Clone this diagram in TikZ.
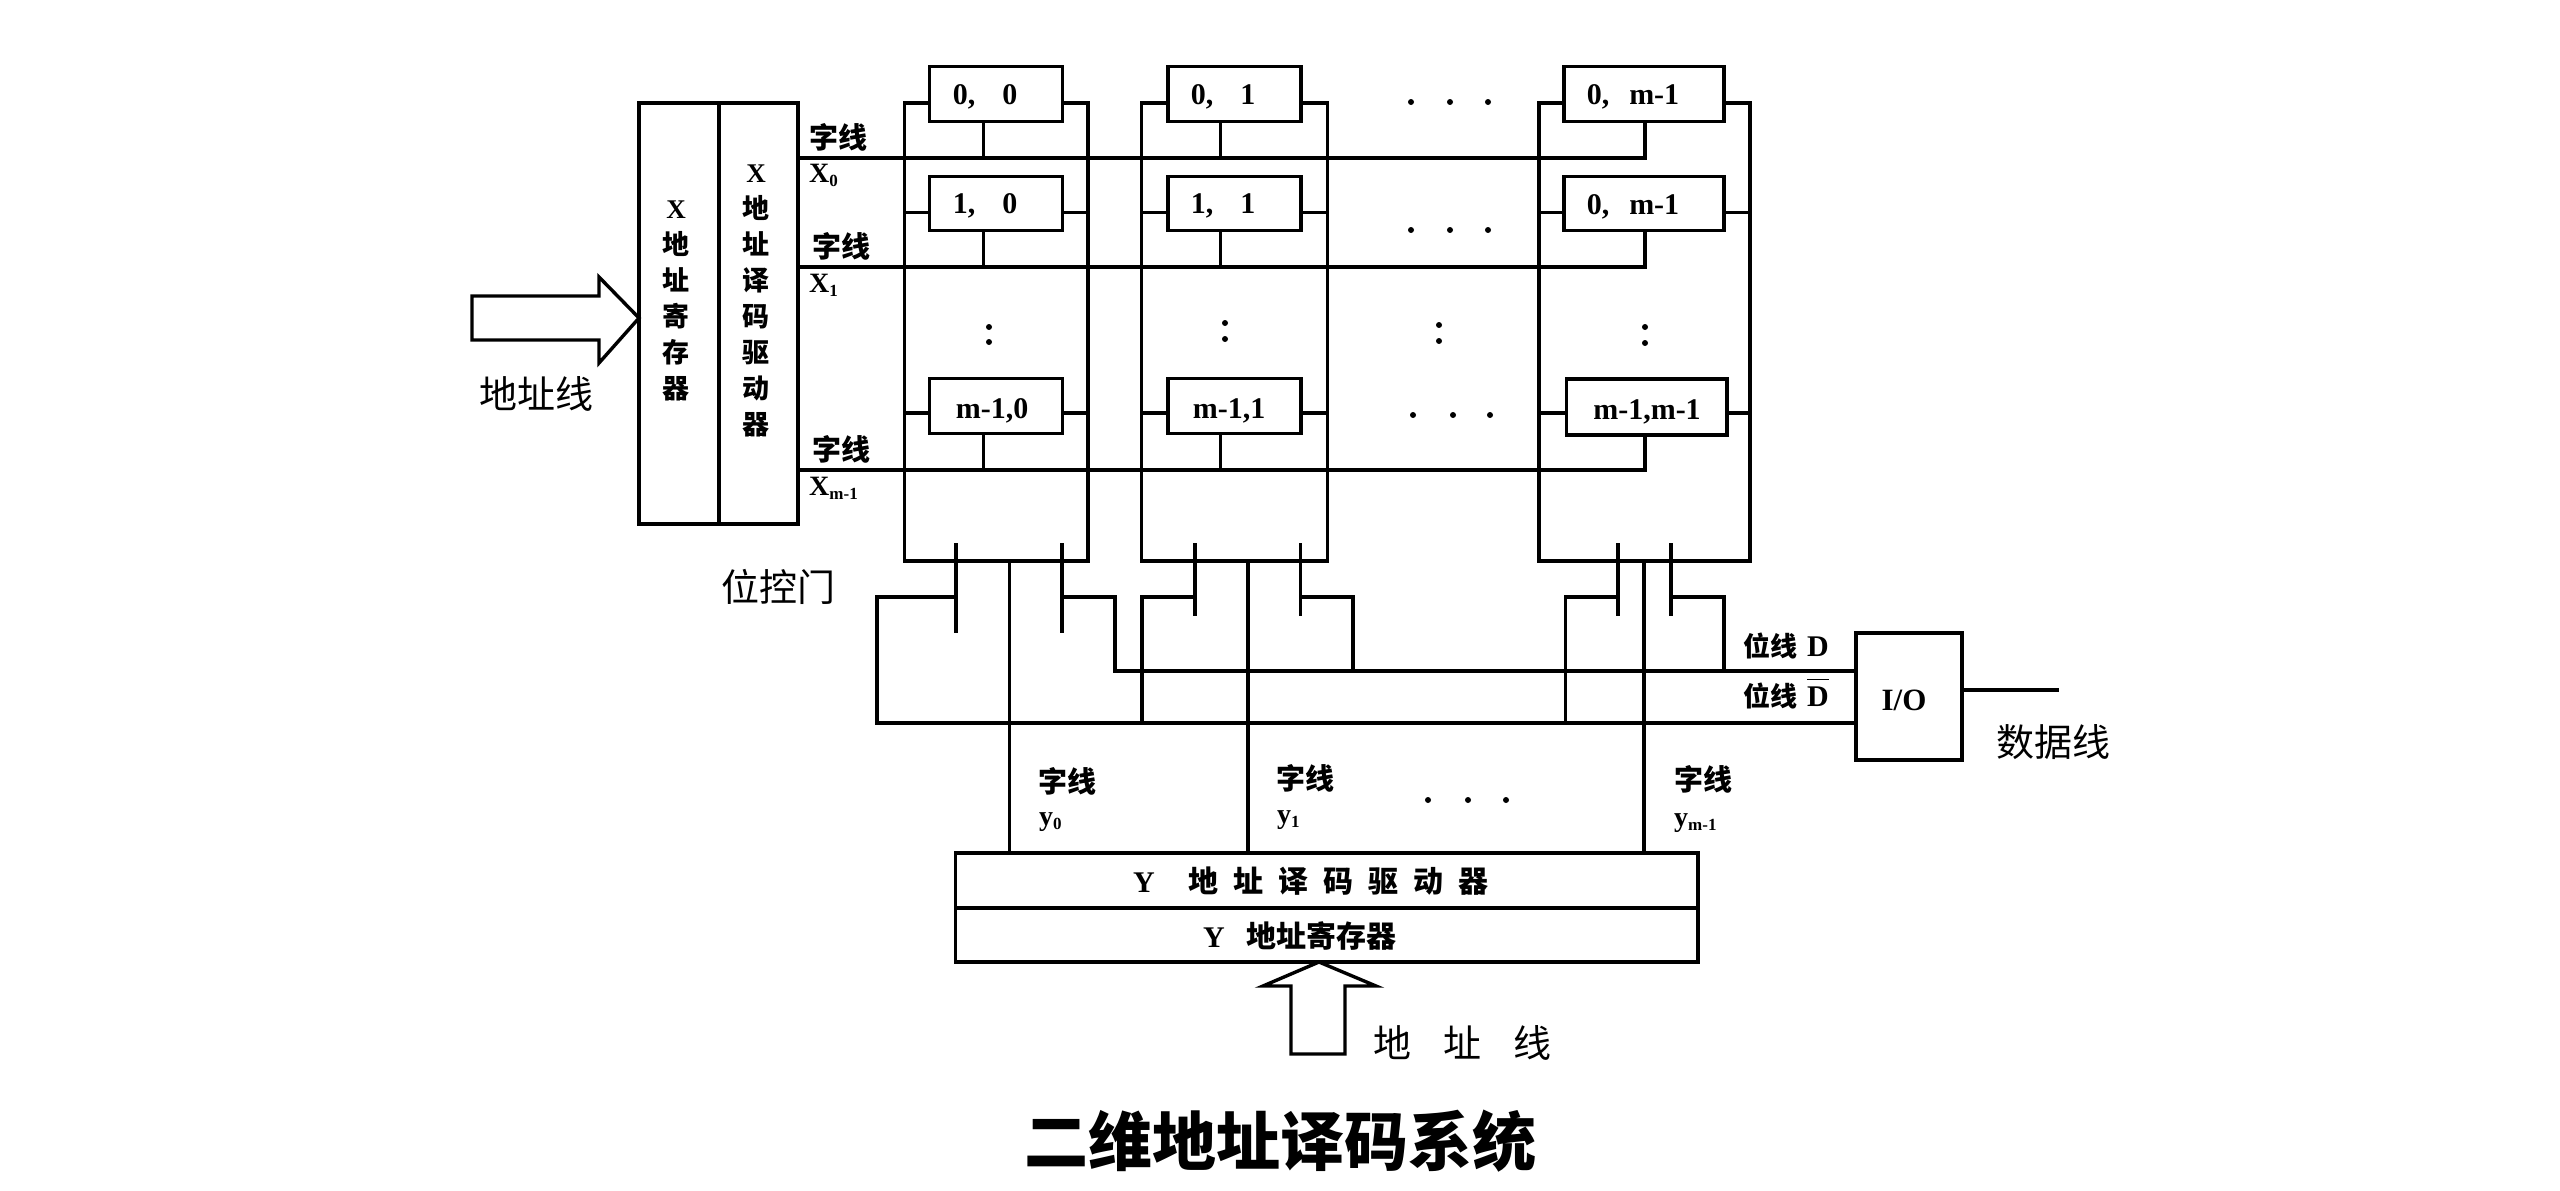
\documentclass[tikz,border=0pt]{standalone}
\usepackage{fontspec}
\setmainfont{Liberation Serif}
\newfontfamily\cjk{Noto Sans CJK SC}
\newfontfamily\cjktitle{Noto Sans CJK SC Black}
\newcommand{\fsz}[1]{\fontsize{#1}{#1}\selectfont}
\newcommand{\lowsub}[1]{\raisebox{-4pt}{\fsz{17}#1}}
\tikzset{
  wire/.style={line width=3.4pt,line join=miter,draw=black},
  boxn/.style={draw=black,line width=3.4pt,rectangle,inner sep=0pt,outer sep=0pt,fill=white},
  cellbox/.style={boxn,minimum width=133pt,minimum height=54.5pt},
  celltxt/.style={inner sep=0pt,font=\fsz{30}\bfseries},
  smalltxt/.style={inner sep=0pt,font=\fsz{29}\cjk\bfseries},
  bigtxt/.style={inner sep=0pt,font=\fsz{38}\cjk},
  sublab/.style={inner sep=0pt,anchor=west,font=\fsz{28}\bfseries},
  vtxt/.style={inner sep=0pt,align=center,font=\fsz{27}\bfseries},
  dotn/.style={circle,fill=black,inner sep=0pt,minimum size=6pt}
}
\begin{document}
\begin{tikzpicture}[x=1pt,y=-1pt]
\useasboundingbox[fill=white] (0,0) rectangle (2560,1191);
% guide coordinates
\coordinate (armY) at (0,103);
\coordinate (stubA) at (0,212.7);
\coordinate (stubB) at (0,413);
\coordinate (r0) at (0,158);
\coordinate (r1) at (0,267);
\coordinate (r2) at (0,470);
\coordinate (b1L) at (904.5,561);
\coordinate (b1R) at (1088,561);
\coordinate (b2L) at (1141.5,561);
\coordinate (b2R) at (1327.5,561);
\coordinate (b3L) at (1539,561);
\coordinate (b3R) at (1750,561);
\coordinate (st1) at (983.5,0);
\coordinate (st2) at (1220.5,0);
\coordinate (st3) at (1645,0);
\coordinate (g1) at (1009.5,561);
\coordinate (g2) at (1248,561);
\coordinate (g3) at (1644,561);
\coordinate (brY) at (0,597);
\coordinate (dbarL) at (877,723);
\coordinate (dbar2) at (1142,723);
\coordinate (dbar3) at (1565.5,723);
\coordinate (dL) at (1115,671);
\coordinate (d2) at (1353,671);
\coordinate (d3) at (1724,671);
\coordinate (gl1) at (956,543);  \coordinate (gl1e) at (956,633);
\coordinate (gr1) at (1062,543); \coordinate (gr1e) at (1062,633);
\coordinate (gl2) at (1195,543); \coordinate (gl2e) at (1195,616);
\coordinate (gr2) at (1300.5,543); \coordinate (gr2e) at (1300.5,616);
\coordinate (gl3) at (1618,543); \coordinate (gl3e) at (1618,616);
\coordinate (gr3) at (1671,543); \coordinate (gr3e) at (1671,616);
\coordinate (dataEnd) at (2059,690);
% blocks
\node[boxn,minimum width=80pt,minimum height=421pt] (reg) at (679,313.5) {};
\node[boxn,minimum width=79pt,minimum height=421pt] (dec) at (758.5,313.5) {};
\node[boxn,minimum width=106pt,minimum height=127pt] (io) at (1909,696.5) {};
\node[boxn,minimum width=742.5pt,minimum height=55pt] (yd) at (1326.75,880.5) {};
\node[boxn,minimum width=742.5pt,minimum height=54pt] (yr) at (1326.75,935) {};
% cell boxes
\node[cellbox] (c00) at (996,94) {};
\node[cellbox] (c01) at (1234.5,94) {};
\node[cellbox,minimum width=160pt] (c02) at (1644,94) {};
\node[cellbox] (c10) at (996,203.5) {};
\node[cellbox] (c11) at (1234.5,203.5) {};
\node[cellbox,minimum width=160pt] (c12) at (1644,203.5) {};
\node[cellbox] (c20) at (996,406) {};
\node[cellbox] (c21) at (1234.5,406) {};
\node[cellbox,minimum width=160.5pt,minimum height=56pt] (c22) at (1646.75,407) {};
% column rails
\draw[wire] (c00.west |- armY) -| (b1L) -- (b1R) |- (c00.east |- armY);
\draw[wire] (c01.west |- armY) -| (b2L) -- (b2R) |- (c01.east |- armY);
\draw[wire] (c02.west |- armY) -| (b3L) -- (b3R) |- (c02.east |- armY);
% stubs
\draw[wire] (b1L |- stubA) -- (c10.west |- stubA) (c10.east |- stubA) -- (b1R |- stubA);
\draw[wire] (b2L |- stubA) -- (c11.west |- stubA) (c11.east |- stubA) -- (b2R |- stubA);
\draw[wire] (b3L |- stubA) -- (c12.west |- stubA) (c12.east |- stubA) -- (b3R |- stubA);
\draw[wire] (b1L |- stubB) -- (c20.west |- stubB) (c20.east |- stubB) -- (b1R |- stubB);
\draw[wire] (b2L |- stubB) -- (c21.west |- stubB) (c21.east |- stubB) -- (b2R |- stubB);
\draw[wire] (b3L |- stubB) -- (c22.west |- stubB) (c22.east |- stubB) -- (b3R |- stubB);
% word lines and stems
\draw[wire] (dec.east |- r0) -- (st3 |- r0) -- (st3 |- c02.south);
\draw[wire] (dec.east |- r1) -- (st3 |- r1) -- (st3 |- c12.south);
\draw[wire] (dec.east |- r2) -- (st3 |- r2) -- (st3 |- c22.south);
\draw[wire] (st1 |- c00.south) -- (st1 |- r0);
\draw[wire] (st2 |- c01.south) -- (st2 |- r0);
\draw[wire] (st1 |- c10.south) -- (st1 |- r1);
\draw[wire] (st2 |- c11.south) -- (st2 |- r1);
\draw[wire] (st1 |- c20.south) -- (st1 |- r2);
\draw[wire] (st2 |- c21.south) -- (st2 |- r2);
% Y select lines
\draw[wire] (g1) -- (yd.north -| g1);
\draw[wire] (g2) -- (yd.north -| g2);
\draw[wire] (g3) -- (yd.north -| g3);
% gates
\foreach \g/\e in {gl1/gl1e,gr1/gr1e,gl2/gl2e,gr2/gr2e,gl3/gl3e,gr3/gr3e}
  \draw[wire] (\g) -- (\e);
% bit lines
\draw[wire] (gl1 |- brY) -| (dbarL) -- (io.west |- dbarL);
\draw[wire] (gl2 |- brY) -| (dbar2);
\draw[wire] (gl3 |- brY) -| (dbar3);
\draw[wire] (gr1 |- brY) -| (dL) -- (io.west |- dL);
\draw[wire] (gr2 |- brY) -| (d2);
\draw[wire] (gr3 |- brY) -| (d3);
\draw[wire] (io.east |- dataEnd) -- (dataEnd);
% hollow arrows
\coordinate (tipX) at (reg.west |- 0,318);
\draw[wire,fill=white] (tipX) -- (599,277) -- (599,296) -- (472,296) -- (472,340) -- (599,340) -- (599,363) -- cycle;
\coordinate (tipY) at (1319,962);
\draw[wire,fill=white] (tipY) -- (1263,986) -- (1291,986) -- (1291,1054) -- (1345,1054) -- (1345,986) -- (1376,986) -- cycle;
% block texts
\node[vtxt,font=\fsz{27}\cjk\bfseries] (tr) at (676,301) {{\rmfamily X}\\[9pt]地\\[9pt]址\\[9pt]寄\\[9pt]存\\[9pt]器};
\node[vtxt,font=\fsz{27}\cjk\bfseries] (td) at (756,301) {{\rmfamily X}\\[9pt]地\\[9pt]址\\[9pt]译\\[9pt]码\\[9pt]驱\\[9pt]动\\[9pt]器};
\node[inner sep=0pt,font=\fsz{30}\cjk\bfseries] (ty) at (1311,881) {{\rmfamily Y}\hspace{34pt}地\hspace{15pt}址\hspace{15pt}译\hspace{15pt}码\hspace{15pt}驱\hspace{15pt}动\hspace{15pt}器};
\node[inner sep=0pt,font=\fsz{30}\cjk\bfseries] (tz) at (1300,936) {{\rmfamily Y}\hspace{22pt}地址寄存器};
\node[inner sep=0pt,font=\fsz{31}\bfseries] (tio) at (1904,700) {I/O};
% cell texts
\node[celltxt] (t00) at (985,97) {0,\hspace{27pt}0};
\node[celltxt] (t01) at (1223,97) {0,\hspace{27pt}1};
\node[celltxt] (t02) at (1633,97) {0,\hspace{20pt}m-1};
\node[celltxt] (t10) at (985,206) {1,\hspace{27pt}0};
\node[celltxt] (t11) at (1223,206) {1,\hspace{27pt}1};
\node[celltxt] (t12) at (1633,207) {0,\hspace{20pt}m-1};
\node[celltxt] (t20) at (992,411) {m-1,0};
\node[celltxt] (t21) at (1229,411) {m-1,1};
\node[celltxt] (t22) at (1647,412) {m-1,m-1};
% word line labels
\node[smalltxt] (w0) at (838,137) {字线};
\node[smalltxt] (w1) at (841,246) {字线};
\node[smalltxt] (w2) at (841,449) {字线};
\node[sublab] (x0) at (809,175) {X\lowsub{0}};
\node[sublab] (x1) at (809,285) {X\lowsub{1}};
\node[sublab] (x2) at (809,488) {X\lowsub{m-1}};
\node[smalltxt] (v0) at (1067,781) {字线};
\node[smalltxt] (v1) at (1305,778) {字线};
\node[smalltxt] (v2) at (1703,779) {字线};
\node[sublab] (y0) at (1039,822) {y\lowsub{0}};
\node[sublab] (y1) at (1277,820) {y\lowsub{1}};
\node[sublab] (y2) at (1674,823) {y\lowsub{m-1}};
\node[bigtxt] (al) at (536,394) {地址线};
\node[bigtxt] (gc) at (778,587) {位控门};
\node[bigtxt] (dl) at (2053,742) {数据线};
\node[bigtxt] (al2) at (1462,1043) {地\hspace{32pt}址\hspace{32pt}线};
\node[inner sep=0pt,anchor=base west,font=\fsz{27}\cjk\bfseries] (bd) at (1743,656) {位线\hspace{10pt}{\rmfamily\fsz{30}D}};
\node[inner sep=0pt,anchor=base west,font=\fsz{27}\cjk\bfseries] (bn) at (1743,706) {位线\hspace{10pt}$\overline{\hbox{\rule{0pt}{25pt}\rmfamily\bfseries\fsz{30}D}}$};
\node[inner sep=0pt,font=\fsz{64}\cjktitle] (title) at (1280,1141) {二维地址译码系统};
% dots
\foreach \i/\x/\y in {a/1411/102,b/1450/102,c/1488/102,d/1411/230,e/1450/230,f/1488/230,g/1413/415,h/1453/415,i/1490/415,j/1428/800,k/1468/800,l/1506/800,m/989/327,n/989/342,o/1225/323,p/1225/339,q/1439/325,r/1439/341,s/1645/327,t/1645/343}
  \node[dotn] (dot\i) at (\x,\y) {};
\end{tikzpicture}
\end{document}
